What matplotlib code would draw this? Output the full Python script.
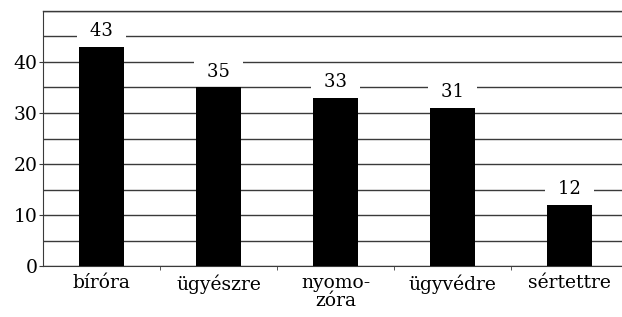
import matplotlib.pyplot as plt
from matplotlib.ticker import MultipleLocator, FixedLocator

categories = ['bíróra', 'ügyészre', 'nyomo-\nzóra', 'ügyvédre', 'sértettre']
values = [43, 35, 33, 31, 12]

plt.rcParams['font.family'] = ['DejaVu Serif']

fig = plt.figure(figsize=(6.22, 3.17), dpi=100)
ax = fig.add_axes([43 / 622, 51 / 317, 585 / 622, 255 / 317])

x = range(len(categories))
ax.bar(x, values, width=0.39, color='black', zorder=3)

# en spaces widen the white box so the grid lines break wider than the number
for i, v in enumerate(values):
    ax.annotate('\u2002' + str(v) + '\u2002', (i, v), xytext=(0, 11.5),
                textcoords='offset points', ha='center', va='center',
                fontsize=13, zorder=4,
                bbox=dict(boxstyle='square,pad=0.22', fc='white', ec='none'))

ax.set_ylim(0, 50)
ax.set_xlim(-0.5, 4.5)
ax.yaxis.set_major_locator(FixedLocator([0, 10, 20, 30, 40]))
ax.yaxis.set_minor_locator(MultipleLocator(5))
ax.grid(axis='y', which='both', color='#3a3a3a', linewidth=1, zorder=0)
ax.tick_params(axis='y', which='major', length=3, labelsize=13.5, pad=1, color='#3a3a3a')
ax.tick_params(axis='y', which='minor', length=0)

ax.set_xticks(list(x))
ax.set_xticklabels(categories, fontsize=13.5, linespacing=1.0)
ax.tick_params(axis='x', which='major', length=0, pad=6)
ax.xaxis.set_minor_locator(FixedLocator([0.5, 1.5, 2.5, 3.5]))
ax.tick_params(axis='x', which='minor', length=3, color='#3a3a3a')

for s in ['right', 'top']:
    ax.spines[s].set_visible(False)
ax.spines['left'].set_color('#3a3a3a')
ax.spines['bottom'].set_color('#3a3a3a')
ax.axhline(50, color='#3a3a3a', linewidth=1, zorder=0, clip_on=False)

fig.savefig('out.png', dpi=100)
